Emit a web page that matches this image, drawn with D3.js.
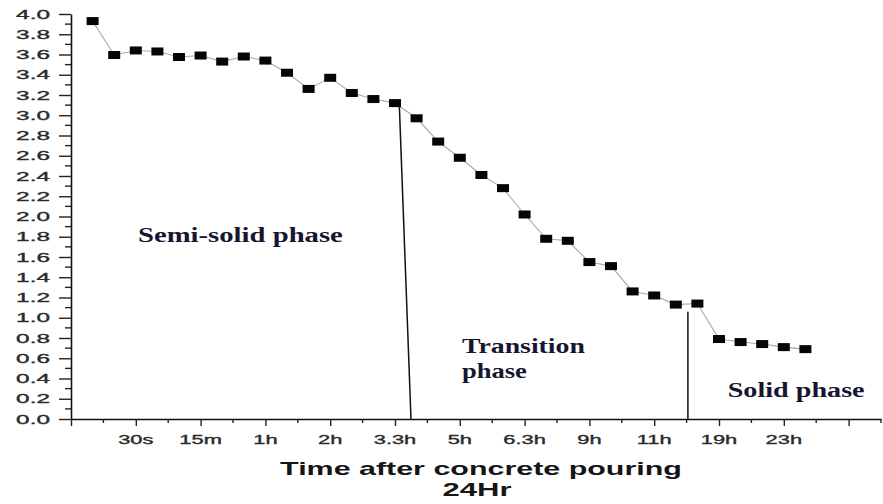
<!DOCTYPE html>
<html>
<head>
<meta charset="utf-8">
<script src="https://cdn.jsdelivr.net/npm/d3@7"></script>
<style>
  html, body { margin: 0; padding: 0; background: #fff; }
  svg { display: block; }
</style>
</head>
<body>
<svg id="chart" width="883" height="504"></svg>
<script>
// Measurement sequence: sample number (1..34) and measured value
const sampleIndex = d3.range(1, 35);
const values = [
  3.93, 3.595, 3.64, 3.63, 3.575, 3.59, 3.53, 3.58, 3.54, 3.42,
  3.26, 3.37, 3.22, 3.16, 3.12, 2.97, 2.74, 2.58, 2.41, 2.28,
  2.02, 1.78, 1.76, 1.55, 1.51, 1.26, 1.22, 1.13, 1.14, 0.79,
  0.76, 0.74, 0.71, 0.69
];

// Time labels placed on every third sample
const timeTickPositions = [3, 6, 9, 12, 15, 18, 21, 24, 27, 30, 33];
const timeTickLabels = ["30s", "15m", "1h", "2h", "3.3h", "5h", "6.3h", "9h", "11h", "19h", "23h"];
const yTickValues = [0, 0.2, 0.4, 0.6, 0.8, 1.0, 1.2, 1.4, 1.6, 1.8, 2.0, 2.2, 2.4, 2.6, 2.8, 3.0, 3.2, 3.4, 3.6, 3.8, 4.0];

// Phase boundaries (sample position at top / bottom, value at top)
const boundaryTopX = [15.2, 28.56];
const boundaryBottomX = [15.74, 28.56];
const boundaryTopY = [3.1, 1.06];

// Phase names: text lines with anchor in data units
const phaseLabels = [
  { lines: ["Semi-solid phase"], x: 3.1, y: 1.75, widths: [205] },
  { lines: ["Transition", "phase"], x: 18.1, y: 0.65, widths: [123, 65] },
  { lines: ["Solid phase"], x: 30.4, y: 0.22, widths: [137] }
];

const svg = d3.select("#chart");

const x = d3.scaleLinear().domain([0, 37.5]).range([71, 881]);
const y = d3.scaleLinear().domain([0, 4]).range([419, 14]);

// Helper: draw text horizontally stretched by factor k
function stretchedText(g, str, px, py, k, anchor, attrs) {
  const t = g.append("text")
    .attr("transform", `translate(${px},${py}) scale(${k},1)`)
    .attr("text-anchor", anchor)
    .text(str);
  Object.entries(attrs).forEach(([a, v]) => t.attr(a, v));
  return t;
}

const tickStyle = {
  "font-family": "Liberation Sans, Arial, sans-serif",
  "font-size": "12.5px",
  "fill": "#2a2a2a",
  "stroke": "#2a2a2a",
  "stroke-width": 0.35
};

// Y axis
const yAxis = d3.axisLeft(y)
  .tickValues(yTickValues)
  .tickFormat(d3.format(".1f"))
  .tickSize(12)
  .tickSizeOuter(0);
const gy = svg.append("g").attr("transform", `translate(${x(0)},0)`).call(yAxis);
gy.select(".domain").attr("stroke", "#111").attr("stroke-width", 1.6);
gy.selectAll(".tick line").attr("stroke", "#222").attr("stroke-width", 1.4);
gy.selectAll(".tick text").remove();
// minor y ticks
gy.selectAll(".minor")
  .data(d3.range(0.1, 4, 0.2))
  .join("line")
  .attr("x1", -6).attr("x2", 0)
  .attr("y1", d => y(d)).attr("y2", d => y(d))
  .attr("stroke", "#222").attr("stroke-width", 1.4);
// y tick labels
const yLab = svg.append("g");
yTickValues.forEach(v => {
  stretchedText(yLab, d3.format(".1f")(v), 50, y(v) + 4.6, 1.95, "end", tickStyle);
});

// X axis
const xAxis = d3.axisBottom(x)
  .tickValues(d3.range(0, 37, 3))
  .tickFormat("")
  .tickSize(7)
  .tickSizeOuter(0);
const gx = svg.append("g").attr("transform", `translate(0,${y(0)})`).call(xAxis);
gx.select(".domain").attr("stroke", "#111").attr("stroke-width", 1.6);
gx.selectAll(".tick line").attr("stroke", "#222").attr("stroke-width", 1.4);
gx.selectAll(".minor")
  .data(d3.range(1.5, 38, 3))
  .join("line")
  .attr("x1", d => x(d)).attr("x2", d => x(d))
  .attr("y1", 0).attr("y2", 4)
  .attr("stroke", "#222").attr("stroke-width", 1.4);
const xLab = svg.append("g");
timeTickPositions.forEach((p, i) => {
  stretchedText(xLab, timeTickLabels[i], x(p), 443.5, 1.75, "middle", tickStyle);
});

// Axis title (two lines), fitted to width
const titleStyle = {
  "font-family": "Liberation Sans, Arial, sans-serif",
  "font-size": "19px",
  "font-weight": "bold",
  "fill": "#151515"
};
function fitted(g, str, cx, by, width, anchor, style) {
  const t = stretchedText(g, str, cx, by, 1, anchor, style);
  const w = t.node().getComputedTextLength();
  const k = width / w;
  t.attr("transform", `translate(${cx},${by}) scale(${k},1)`);
  return t;
}
const titles = svg.append("g");
fitted(titles, "Time after concrete pouring", 481, 475, 402, "middle", titleStyle);
fitted(titles, "24Hr", 477, 495.5, 69, "middle", titleStyle);

// Connecting line
const line = d3.line().x((d, i) => x(sampleIndex[i])).y(d => y(d));
svg.append("path")
  .datum(values)
  .attr("d", line)
  .attr("fill", "none")
  .attr("stroke", "#a8a8a8")
  .attr("stroke-width", 1.1);

// Phase boundary lines
svg.append("g").selectAll("line")
  .data(boundaryTopX)
  .join("line")
  .attr("x1", (d, i) => x(d))
  .attr("y1", (d, i) => y(boundaryTopY[i]))
  .attr("x2", (d, i) => x(boundaryBottomX[i]))
  .attr("y2", y(0))
  .attr("stroke", "#111")
  .attr("stroke-width", 1.5);

// Square markers
const mw = 12, mh = 8;
svg.append("g").selectAll("rect")
  .data(values)
  .join("rect")
  .attr("x", (d, i) => x(sampleIndex[i]) - mw / 2)
  .attr("y", d => y(d) - mh / 2)
  .attr("width", mw)
  .attr("height", mh)
  .attr("fill", "#050505");

// Phase names
const phaseStyle = {
  "font-family": "Liberation Serif, 'Times New Roman', serif",
  "font-size": "22px",
  "font-weight": "bold",
  "fill": "#161630"
};
const ph = svg.append("g");
phaseLabels.forEach(p => {
  p.lines.forEach((ln, j) => {
    fitted(ph, ln, x(p.x), y(p.y) + j * 25, p.widths[j], "start", phaseStyle);
  });
});
</script>
</body>
</html>
